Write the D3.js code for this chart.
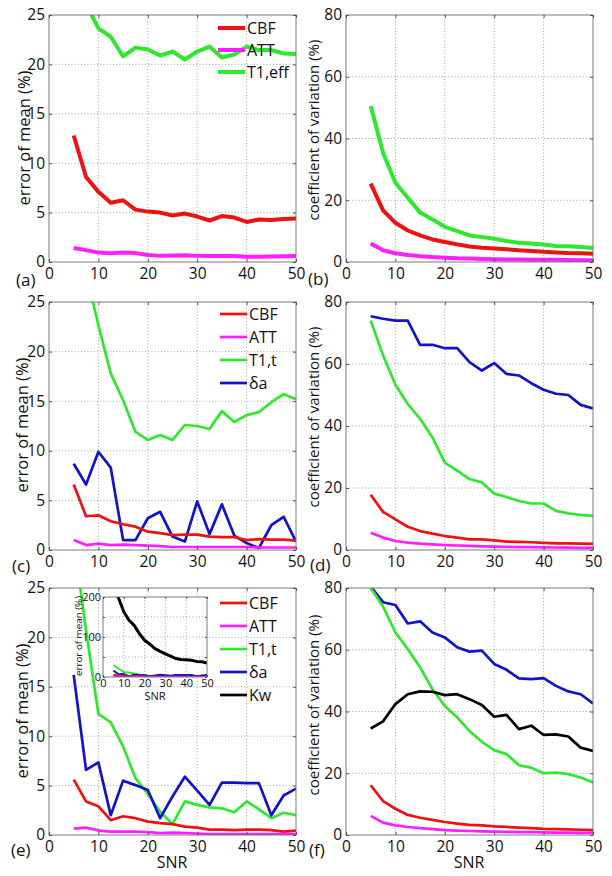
<!DOCTYPE html>
<html><head><meta charset="utf-8">
<script src="https://cdn.jsdelivr.net/npm/d3@7/dist/d3.min.js"></script>
<style>body{margin:0;background:#fff} text{font-family:"Open Sans",sans-serif}</style>
</head><body><svg id="c" width="612" height="876"></svg>
<script>
// ---------- data ----------
const snr = [5,7.5,10,12.5,15,17.5,20,22.5,25,27.5,30,32.5,35,37.5,40,42.5,45,47.5,50];
const xTicks = [0,10,20,30,40,50];

// (a) error of mean
const A_CBF  = [12.8,8.6,7.1,6.0,6.25,5.3,5.1,5.0,4.7,4.9,4.6,4.2,4.65,4.5,4.05,4.3,4.25,4.35,4.4];
const A_ATT  = [1.42,1.2,0.95,0.88,0.95,0.9,0.7,0.62,0.65,0.68,0.62,0.6,0.6,0.6,0.52,0.52,0.55,0.58,0.6];
const A_T1eff= [32,26.1,23.65,22.8,20.8,21.7,21.5,20.9,21.3,20.5,21.3,21.8,20.7,21.0,21.8,21.45,21.45,21.1,21.05];
// (b) coefficient of variation
const B_CBF  = [25.4,16.7,12.7,10.2,8.6,7.3,6.5,5.7,5.0,4.6,4.4,4.1,3.8,3.6,3.3,3.1,2.9,2.8,2.7];
const B_ATT  = [6.0,3.8,2.8,2.3,1.9,1.6,1.4,1.2,1.1,1.0,0.9,0.85,0.8,0.75,0.7,0.7,0.65,0.6,0.6];
const B_T1eff= [50.5,35.4,25.7,20.8,16.0,13.8,11.4,10.0,8.6,8.1,7.5,6.8,6.25,6.0,5.7,5.2,5.1,4.85,4.5];
// (c)
const C_CBF  = [6.6,3.4,3.5,2.9,2.6,2.35,1.85,1.7,1.5,1.55,1.55,1.35,1.3,1.3,1.0,1.1,1.05,1.05,0.95];
const C_ATT  = [1.0,0.5,0.65,0.5,0.55,0.5,0.45,0.4,0.3,0.3,0.3,0.3,0.3,0.3,0.3,0.25,0.25,0.25,0.25];
const C_T1t  = [35,28,22.65,17.8,15.1,11.9,11.1,11.6,11.1,12.6,12.5,12.2,14.0,12.9,13.6,13.9,14.9,15.7,15.2];
const C_da   = [8.7,6.6,9.9,8.3,1.0,1.0,3.2,3.85,1.35,0.85,4.9,1.6,4.6,1.45,0.7,0.2,2.5,3.35,0.85];
// (d)
const D_CBF  = [17.8,12.3,9.9,7.5,6.1,5.3,4.5,4.0,3.45,3.45,3.1,2.7,2.6,2.5,2.3,2.15,2.15,2.05,1.95];
const D_ATT  = [5.6,4.0,2.9,2.4,2.05,1.8,1.6,1.45,1.3,1.2,1.1,1.0,0.95,0.9,0.85,0.8,0.75,0.7,0.7];
const D_T1t  = [74.0,62.8,53.3,47.1,42.3,36.3,28.2,25.6,22.9,21.8,18.2,17.1,15.8,15.0,15.0,12.6,11.8,11.3,11.0];
const D_da   = [75.4,74.6,74.0,74.0,66.2,66.2,65.1,65.1,60.6,57.9,60.3,56.8,56.3,53.8,51.7,50.4,50.0,46.8,45.7];
// (e)
const E_CBF  = [5.6,3.4,2.9,1.5,1.9,1.7,1.35,1.2,1.1,0.85,0.75,0.55,0.55,0.5,0.55,0.55,0.5,0.35,0.45];
const E_ATT  = [0.65,0.75,0.45,0.35,0.35,0.35,0.3,0.2,0.25,0.2,0.15,0.1,0.1,0.1,0.1,0.1,0.1,0.1,0.1];
const E_T1t  = [30,20.7,12.25,11.4,8.95,5.75,4.15,2.35,1.1,3.4,3.05,2.8,2.7,2.3,3.4,2.6,1.7,2.25,2.0];
const E_da   = [16.2,6.6,7.35,2.0,5.5,5.05,4.55,1.7,3.9,5.9,4.5,3.05,5.3,5.3,5.25,5.25,2.0,4.0,4.7];
const E_Kw   = [225,197,163,142,129,108,92,82,71,64,58,52,46,44,43,42,39,38,35];
// (f)
const F_CBF  = [16.1,11.0,8.5,6.5,5.6,4.9,4.2,3.7,3.25,3.1,2.8,2.6,2.4,2.2,2.0,1.9,1.8,1.7,1.6];
const F_ATT  = [6.2,4.0,3.1,2.6,2.2,1.9,1.6,1.4,1.3,1.2,1.1,1.0,0.95,0.9,0.85,0.8,0.75,0.7,0.7];
const F_T1t  = [80,74,65.6,60.2,54.3,47.2,41.8,38.1,33.7,30.2,27.5,26.2,22.6,21.8,20.0,20.2,19.7,18.6,17.0];
const F_da   = [80.5,75.4,74.5,68.5,69.2,65.6,64.0,60.8,59.4,59.7,55.4,53.5,50.7,50.5,50.8,48.3,46.5,45.6,42.6];
const F_Kw   = [34.5,36.8,42.4,45.6,46.5,46.4,45.3,45.6,44.0,42.1,38.3,38.9,34.3,35.4,32.4,32.6,31.9,28.3,27.2];

const labEM = "error of mean (%)", labCV = "coefficient of variation (%)";
// ---------- drawing ----------
const COL = {CBF:"#ee1111", ATT:"#ff1eff", T1:"#2ee82e", da:"#1212cc", Kw:"#000000"};
const svg = d3.select("#c");
let clipN = 0;

function panel(o){
  const g = svg.append("g");
  const x = d3.scaleLinear().domain([0,50]).range([o.l,o.r]);
  const y = d3.scaleLinear().domain([0,o.ymax]).range([o.b,o.t]);
  const fs = o.fs || 15.5;
  g.append("rect").attr("x",o.l).attr("y",o.t).attr("width",o.r-o.l).attr("height",o.b-o.t).attr("fill","#fff");
  const gx = o.gridX || xTicks.slice(1,-1), gy = o.gridY;
  g.selectAll(null).data(gx).join("line")
    .attr("x1",d=>x(d)).attr("x2",d=>x(d)).attr("y1",o.t).attr("y2",o.b)
    .attr("stroke","#8a8a8a").attr("stroke-width",0.8).attr("stroke-dasharray","1,2.2");
  g.selectAll(null).data(gy).join("line")
    .attr("y1",d=>y(d)).attr("y2",d=>y(d)).attr("x1",o.l).attr("x2",o.r)
    .attr("stroke","#8a8a8a").attr("stroke-width",0.8).attr("stroke-dasharray","1,2.2");
  const id = "clp"+(clipN++);
  svg.append("clipPath").attr("id",id).append("rect")
    .attr("x",o.l).attr("y",o.t).attr("width",o.r-o.l).attr("height",o.b-o.t);
  const line = d3.line().x((d,i)=>x(snr[i])).y(d=>y(d));
  const lg = g.append("g").attr("clip-path",`url(#${id})`);
  o.series.forEach(s=>{
    lg.append("path").datum(s.v).attr("d",line).attr("fill","none")
      .attr("stroke",s.c).attr("stroke-width",s.w||o.lw).attr("stroke-linejoin","round");
  });
  g.append("rect").attr("x",o.l).attr("y",o.t).attr("width",o.r-o.l).attr("height",o.b-o.t)
    .attr("fill","none").attr("stroke","#6a6a6a").attr("stroke-width",0.9);
  const ts = o.ts || 3;
  const ax = g.append("g").attr("transform",`translate(0,${o.b})`)
    .call(d3.axisBottom(x).tickValues(xTicks).tickSize(-ts).tickPadding(o.xpad||6).tickFormat(d3.format("d")));
  const ay = g.append("g").attr("transform",`translate(${o.l},0)`)
    .call(d3.axisLeft(y).tickValues(o.yTicks).tickSize(-ts).tickPadding(o.ypad||4).tickFormat(o.yFmt||d3.format("d")));
  const at = g.append("g").attr("transform",`translate(0,${o.t})`)
    .call(d3.axisTop(x).tickValues(xTicks).tickSize(-ts).tickFormat(""));
  const ar = g.append("g").attr("transform",`translate(${o.r},0)`)
    .call(d3.axisRight(y).tickValues(o.yTicks).tickSize(-ts).tickFormat(""));
  [ax,ay,at,ar].forEach(a=>{
    a.select(".domain").remove();
    a.selectAll("line").attr("stroke","#555");
    a.selectAll("text").attr("font-size",fs).attr("fill","#111").attr("font-family",'"Open Sans",sans-serif');
  });
  if(o.ylab){
    g.append("text").attr("transform",`translate(${o.ylx},${o.yly}) rotate(-90)`)
      .attr("text-anchor","middle").attr("dy","0.35em").attr("font-size",o.ylfs||16.5).attr("fill","#111").text(o.ylab);
  }
  if(o.xlab){
    g.append("text").attr("x",o.xlx).attr("y",o.xly).attr("text-anchor","middle")
      .attr("font-size",o.xlfs||16).attr("fill","#111").text(o.xlab);
  }
  if(o.tag){
    g.append("text").attr("x",o.tagx).attr("y",o.tagy).attr("font-size",17).attr("fill","#111").text(o.tag);
  }
  if(o.legend){
    o.legend.forEach((s,i)=>{
      const yy = o.legY + i*o.legDy;
      g.append("line").attr("x1",o.legX).attr("x2",o.legX+27).attr("y1",yy).attr("y2",yy)
        .attr("stroke",s.c).attr("stroke-width",s.w||o.lw);
      g.append("text").attr("x",o.legX+29).attr("y",yy).attr("dy","0.36em")
        .attr("font-size",16).attr("fill","#111").text(s.n);
    });
  }
  return g;
}

const L = {l:49, r:296}, R = {l:346, r:593};
const rows = [{t:15,b:262},{t:302,b:550},{t:588,b:835}];
const emY = {ymax:25, yTicks:[0,5,10,15,20,25], gridY:[5,10,15,20]};
const cvY = {ymax:80, yTicks:[0,20,40,60,80], gridY:[20,40,60]};

// (a)
const serA = [{n:"CBF",v:A_CBF,c:COL.CBF},{n:"ATT",v:A_ATT,c:COL.ATT},{n:"T1,eff",v:A_T1eff,c:COL.T1}];
panel(Object.assign({},L,rows[0],emY,{lw:4,series:[serA[2],serA[0],serA[1]],
  ylab:labEM, ylx:24, yly:138, tag:"(a)", tagx:16, tagy:286,
  legend:serA, legX:218, legY:28, legDy:22}));
// (b)
panel(Object.assign({},R,rows[0],cvY,{lw:4,series:[{v:B_T1eff,c:COL.T1},{v:B_CBF,c:COL.CBF},{v:B_ATT,c:COL.ATT}],
  ylab:labCV, ylx:314, yly:130, ylfs:15, tag:"(b)", tagx:308, tagy:285}));
// (c)
const serC = [{n:"CBF",v:C_CBF,c:COL.CBF},{n:"ATT",v:C_ATT,c:COL.ATT},{n:"T1,t",v:C_T1t,c:COL.T1},{n:"δa",v:C_da,c:COL.da}];
panel(Object.assign({},L,rows[1],emY,{lw:2.7,series:[serC[2],serC[3],serC[0],serC[1]],
  ylab:labEM, ylx:22, yly:425, tag:"(c)", tagx:12, tagy:572,
  legend:serC, legX:220, legY:314, legDy:23}));
// (d)
panel(Object.assign({},R,rows[1],cvY,{lw:2.7,series:[{v:D_da,c:COL.da},{v:D_T1t,c:COL.T1},{v:D_CBF,c:COL.CBF},{v:D_ATT,c:COL.ATT}],
  ylab:labCV, ylx:314, yly:417, ylfs:15, tag:"(d)", tagx:310, tagy:571}));
// (e)
const serE = [{n:"CBF",v:E_CBF,c:COL.CBF},{n:"ATT",v:E_ATT,c:COL.ATT},{n:"T1,t",v:E_T1t,c:COL.T1},{n:"δa",v:E_da,c:COL.da},{n:"Kw",v:E_Kw,c:COL.Kw}];
panel(Object.assign({},L,rows[2],emY,{lw:2.7,series:[serE[2],serE[3],serE[0],serE[1]],
  ylab:labEM, ylx:22, yly:711, tag:"(e)", tagx:11, tagy:856,
  xlab:"SNR", xlx:172, xly:868,
  legend:serE, legX:220, legY:603, legDy:23}));
// inset in (e)
panel({l:103, r:207, t:597, b:677, ymax:200, yTicks:[0,50,100,150,200], gridY:[50,100,150],
  yFmt:d=> d%100===0 ? d : "", fs:11, ts:2, xpad:2, ypad:2, lw:2,
  series:[{v:E_T1t,c:COL.T1},{v:E_da,c:COL.da},{v:E_CBF,c:COL.CBF},{v:E_ATT,c:COL.ATT},{v:E_Kw,c:COL.Kw,w:3}],
  ylab:labEM, ylx:79, yly:636, ylfs:9.8, xlab:"SNR", xlx:155, xly:700, xlfs:11});
// (f)
panel(Object.assign({},R,rows[2],cvY,{lw:2.7,series:[{v:F_da,c:COL.da},{v:F_T1t,c:COL.T1},{v:F_Kw,c:COL.Kw},{v:F_CBF,c:COL.CBF},{v:F_ATT,c:COL.ATT}],
  ylab:labCV, ylx:314, yly:705, ylfs:15, tag:"(f)", tagx:309, tagy:856,
  xlab:"SNR", xlx:469, xly:868}));
</script></body></html>
